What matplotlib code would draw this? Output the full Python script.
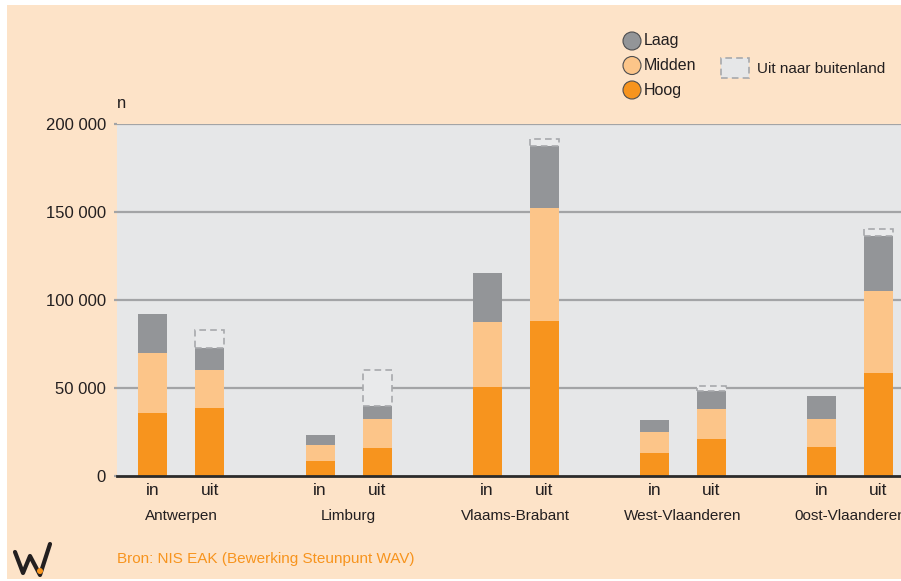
import matplotlib
matplotlib.use("Agg")
import matplotlib.pyplot as plt
import matplotlib.patches as mpatches
from matplotlib.lines import Line2D
import numpy as np

plt.rcParams['font.family'] = ['Liberation Sans', 'DejaVu Sans']

# ---- data ----
provinces = ["Antwerpen", "Limburg", "Vlaams-Brabant", "West-Vlaanderen", "0ost-Vlaanderen"]
sub_labels = ["in", "uit"]
hoog_in = [36000, 8500, 50500, 13000, 16500]
midden_in = [34000, 9000, 37000, 12000, 16000]
laag_in = [22000, 5700, 27800, 6800, 13000]
hoog_uit = [38500, 16000, 88000, 21000, 58500]
midden_uit = [21500, 16400, 64300, 17000, 46600]
laag_uit = [13000, 7400, 35400, 10300, 31300]
buitenland_uit = [10000, 20600, 3600, 2800, 3900]
yticks = [0, 50000, 100000, 150000, 200000]
ytick_labels = ["0", "50 000", "100 000", "150 000", "200 000"]

# ---- colours ----
C_HOOG = "#F7941E"
C_MIDDEN = "#FCC589"
C_LAAG = "#939598"
C_AX = "#E6E7E8"
C_BG = "#FDE3C8"
C_GRID = "#A3A4A6"
C_TXT = "#231F20"

W, H = 901, 581
fig = plt.figure(figsize=(W / 100, H / 100), dpi=100, facecolor="white")

def fx(x):
    return x / W

def fy(y):
    return 1 - y / H

# peach background panel
fig.patches.append(mpatches.Rectangle((fx(7), fy(579)), 1 - fx(7), fy(5) - fy(579),
                                      transform=fig.transFigure, facecolor=C_BG,
                                      edgecolor="none", zorder=0))

ax = fig.add_axes([fx(117), fy(476), 1 - fx(117), fy(124) - fy(476)])
ax.set_facecolor(C_AX)
ax.set_zorder(1)

unit = 167.1  # px per group
x0 = 181.4
ax.set_xlim((117 - x0) / unit, (901 - x0) / unit)
ax.set_ylim(0, 200000)

g = np.arange(len(provinces))
off = 28.5 / unit
bw = 29 / unit
xin = g - off
xuit = g + off

hi = np.array(hoog_in); mi = np.array(midden_in); li = np.array(laag_in)
hu = np.array(hoog_uit); mu = np.array(midden_uit); lu = np.array(laag_uit)
bu = np.array(buitenland_uit)

ax.bar(xin, hi, bw, color=C_HOOG, zorder=3)
ax.bar(xin, mi, bw, bottom=hi, color=C_MIDDEN, zorder=3)
ax.bar(xin, li, bw, bottom=hi + mi, color=C_LAAG, zorder=3)
ax.bar(xuit, hu, bw, color=C_HOOG, zorder=3)
ax.bar(xuit, mu, bw, bottom=hu, color=C_MIDDEN, zorder=3)
ax.bar(xuit, lu, bw, bottom=hu + mu, color=C_LAAG, zorder=3)
ax.bar(xuit, bu, bw, bottom=hu + mu + lu, facecolor="#E9EAEB", edgecolor="#A7A9AC",
       linestyle=(0, (4, 2.5)), linewidth=1.2, zorder=3)

# gridlines
for t in yticks[1:]:
    ax.axhline(t, color=C_GRID, linewidth=1.6, zorder=2)

for s in ["top", "right", "left"]:
    ax.spines[s].set_visible(False)
ax.spines["bottom"].set_color("#2B2B2B")
ax.spines["bottom"].set_linewidth(2)
ax.spines["bottom"].set_zorder(4)

ax.set_yticks(yticks)
ax.set_yticklabels(ytick_labels, fontsize=12, color=C_TXT)
ax.tick_params(axis="y", length=2, width=1.6, color=C_GRID, pad=6)

xt = np.column_stack([xin, xuit]).ravel()
ax.set_xticks(xt)
ax.set_xticklabels(sub_labels * len(provinces), fontsize=12.5, color=C_TXT)
ax.tick_params(axis="x", length=0, pad=5)

for i, p in enumerate(provinces):
    ax.annotate(p, xy=(g[i], 0), xycoords=("data", "axes fraction"),
                xytext=(0, -23.5), textcoords="offset points", ha="center", va="top",
                fontsize=11, color=C_TXT, annotation_clip=False)

# 'n' axis label
fig.text(fx(117), fy(103), "n", fontsize=12, color=C_TXT, ha="left", va="center")

# legend
leg_items = [("Laag", C_LAAG), ("Midden", C_MIDDEN), ("Hoog", C_HOOG)]
for k, (lab, col) in enumerate(leg_items):
    yy = 41 + k * 24.5
    fig.patches.append(mpatches.Ellipse((fx(632), fy(yy)), 18 / W, 18 / H,
                                        transform=fig.transFigure, facecolor=col,
                                        edgecolor="#4D4D4F", linewidth=0.8, zorder=5))
    fig.text(fx(644), fy(yy), lab, fontsize=11.5, color=C_TXT, ha="left", va="center")
fig.patches.append(mpatches.Rectangle((fx(721), fy(78)), 28 / W, 20 / H,
                                      transform=fig.transFigure, facecolor="#E6E7E8",
                                      edgecolor="#A7A9AC", linestyle=(0, (4, 2.5)),
                                      linewidth=1.2, zorder=5))
fig.text(fx(757), fy(69), "Uit naar buitenland", fontsize=11, color=C_TXT,
         ha="left", va="center")

# source
fig.text(fx(117), fy(559), "Bron: NIS EAK (Bewerking Steunpunt WAV)", fontsize=11,
         color=C_HOOG, ha="left", va="center")

# logo
logo_x = [15, 23, 30, 40, 50]
logo_y = [552, 573, 556, 575, 544]
fig.lines.append(Line2D([fx(v) for v in logo_x], [fy(v) for v in logo_y],
                        transform=fig.transFigure, color=C_TXT, linewidth=3,
                        solid_joinstyle="round", solid_capstyle="round", zorder=5))
fig.patches.append(mpatches.Ellipse((fx(40), fy(571)), 6 / W, 6 / H,
                                    transform=fig.transFigure, facecolor=C_HOOG,
                                    edgecolor="none", zorder=6))

fig.savefig("out.png", dpi=100, facecolor=fig.get_facecolor())
